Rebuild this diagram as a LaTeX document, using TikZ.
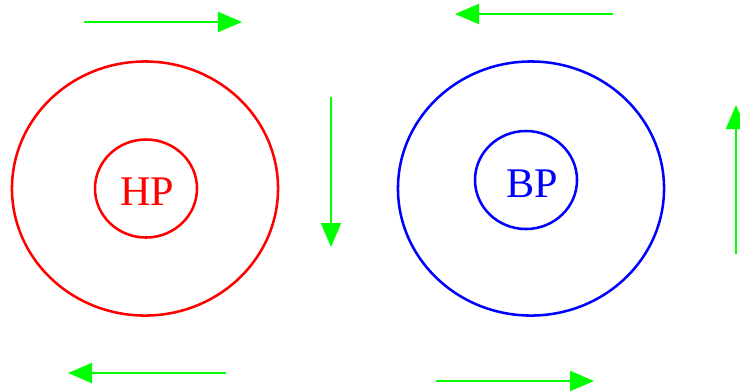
\documentclass[tikz,border=0pt]{standalone}
\usepackage{fontspec}
\setmainfont{Liberation Serif}
\usetikzlibrary{arrows.meta,shapes.geometric,positioning}
\definecolor{hpred}{RGB}{255,0,0}
\definecolor{bpblue}{RGB}{0,0,255}
\definecolor{windgreen}{RGB}{0,255,0}
\tikzset{
  outer/.style={ellipse,draw=#1,line width=1.8pt,inner sep=0pt,
                minimum width=6.65cm,minimum height=6.35cm},
  inner/.style={ellipse,draw=#1,line width=1.8pt,inner sep=0pt,
                minimum width=2.55cm,minimum height=2.45cm},
  plabel/.style={text=#1,inner sep=0pt,font=\fontsize{30}{34}\selectfont},
  wind/.style={-{Triangle[length=0.6cm,width=0.5cm]},line width=1.5pt,windgreen},
}
\begin{document}
\begin{tikzpicture}[x=0.025cm,y=-0.025cm]
    \useasboundingbox (0,0) rectangle (740,391);

    % high pressure
    \node[outer=hpred] (hpo) at (145,188.5) {};
    \node[inner=hpred] (hpi) at (146,188.5) {};
    \node[plabel=hpred] (hp) at (147,192) {HP};

    % low pressure
    \node[outer=bpblue] (bpo) at (531,188.5) {};
    \node[inner=bpblue] (bpi) at (526,180) {};
    \node[plabel=bpblue] (bp) at (532,184) {BP};

    \foreach \xa/\ya/\xb/\yb in {84/22/242/22, 613/14/455/14, 331/97/331/247,
                                 736/254/736/105, 226/373/68/373, 436/381/594/381}{
      \draw[wind] (\xa,\ya) -- (\xb,\yb);
    }
\end{tikzpicture}
\end{document}
